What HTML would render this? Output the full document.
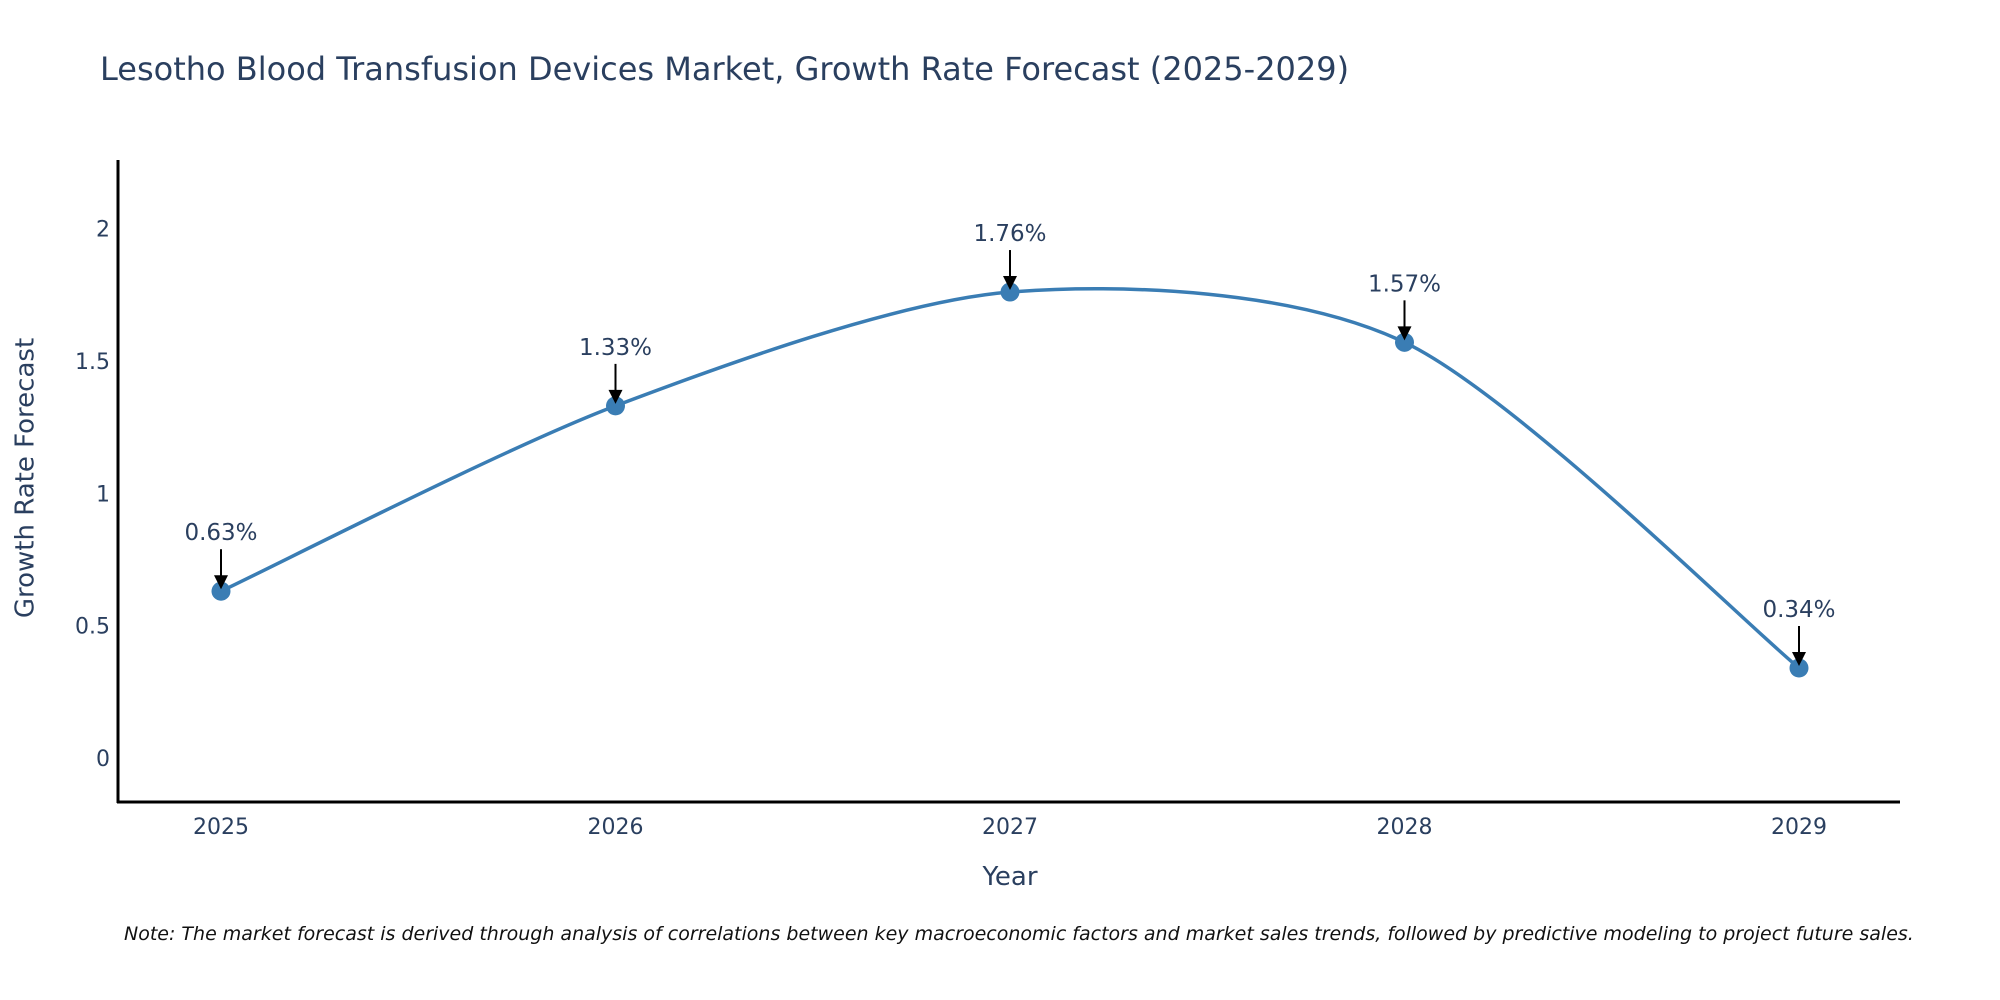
<!DOCTYPE html>
<html><head><meta charset="utf-8"><style>
html,body{margin:0;padding:0;background:#fff;}
svg{display:block;font-family:"DejaVu Sans","Liberation Sans",sans-serif;}
</style></head><body>
<svg id="chart" width="2000" height="1000" viewBox="0 0 2000 1000">
<text x="100" y="80" font-size="32" fill="#2a3f5f">Lesotho Blood Transfusion Devices Market, Growth Rate Forecast (2025-2029)</text>
<g id="yticks"></g><g id="xticks"></g>
<path id="curve" fill="none" stroke="#3a7db4" stroke-width="3.5"></path>
<g id="points"></g><g id="annots"></g>
<line x1="118" y1="160" x2="118" y2="803" stroke="#000" stroke-width="3"/>
<line x1="117" y1="802" x2="1900" y2="802" stroke="#000" stroke-width="3"/>
<text x="1010" y="885" font-size="26" fill="#2a3f5f" text-anchor="middle">Year</text>
<text transform="translate(26,478) rotate(-90)" font-size="26" fill="#2a3f5f" text-anchor="middle" dominant-baseline="middle">Growth Rate Forecast</text>
<text x="124" y="940" font-size="19" font-style="italic" fill="#111">Note: The market forecast is derived through analysis of correlations between key macroeconomic factors and market sales trends, followed by predictive modeling to project future sales.</text>
</svg>
<script>
const years = [2025, 2026, 2027, 2028, 2029];
const growth = [0.63, 1.33, 1.76, 1.57, 0.34];
const labels = ["0.63%", "1.33%", "1.76%", "1.57%", "0.34%"];
const yTicks = [0, 0.5, 1, 1.5, 2];
const yTickLabels = ["0", "0.5", "1", "1.5", "2"];

const NS = "http://www.w3.org/2000/svg";
function xS(v){ return 221 + (v - 2025) * (1799 - 221) / 4; }
function yS(v){ return 758 - v * 264.75; }
function mk(tag, attrs, parent){ const e = document.createElementNS(NS, tag); for (const k in attrs) e.setAttribute(k, attrs[k]); parent.appendChild(e); return e; }

const yg = document.getElementById('yticks');
yTicks.forEach((t, i) => {
  const el = mk('text', {x: 110, y: yS(t) + 8, 'font-size': 22, fill: '#2a3f5f', 'text-anchor': 'end'}, yg);
  
  
  el.textContent = yTickLabels[i];
});
const xg = document.getElementById('xticks');
years.forEach(y => {
  const el = mk('text', {x: xS(y), y: 834, 'font-size': 22, fill: '#2a3f5f', 'text-anchor': 'middle'}, xg);
  
  
  el.textContent = String(y);
});

const pts = years.map((y, i) => [xS(y), yS(growth[i])]);
let d = 'M' + pts[0][0] + ',' + pts[0][1];
const s = 0.14;
for (let i = 0; i < pts.length - 1; i++) {
  const p0 = pts[Math.max(0, i - 1)], p1 = pts[i], p2 = pts[i + 1], p3 = pts[Math.min(pts.length - 1, i + 2)];
  const c1 = [p1[0] + (p2[0] - p0[0]) * s, p1[1] + (p2[1] - p0[1]) * s];
  const c2 = [p2[0] - (p3[0] - p1[0]) * s, p2[1] - (p3[1] - p1[1]) * s];
  d += ' C' + c1[0] + ',' + c1[1] + ' ' + c2[0] + ',' + c2[1] + ' ' + p2[0] + ',' + p2[1];
}
document.getElementById('curve').setAttribute('d', d);

const pg = document.getElementById('points'), ag = document.getElementById('annots');
pts.forEach((p, i) => {
  const c = mk('circle', {cx: p[0], cy: p[1], r: 9.5, fill: '#3a7db4'}, pg);
  
  
  const ln = mk('line', {x1: p[0], y1: p[1] - 42, x2: p[0], y2: p[1] - 14, stroke: '#000', 'stroke-width': 2}, ag);
  
  
  const hd = mk('path', {d: `M${p[0]-7},${p[1]-16} L${p[0]+7},${p[1]-16} L${p[0]},${p[1]-2} Z`, fill: '#000'}, ag);
  
  
  const t = mk('text', {x: p[0], y: p[1] - 51, 'font-size': 23, fill: '#2a3f5f', 'text-anchor': 'middle'}, ag);
  
  
  t.textContent = labels[i];
});
</script>
</body></html>
